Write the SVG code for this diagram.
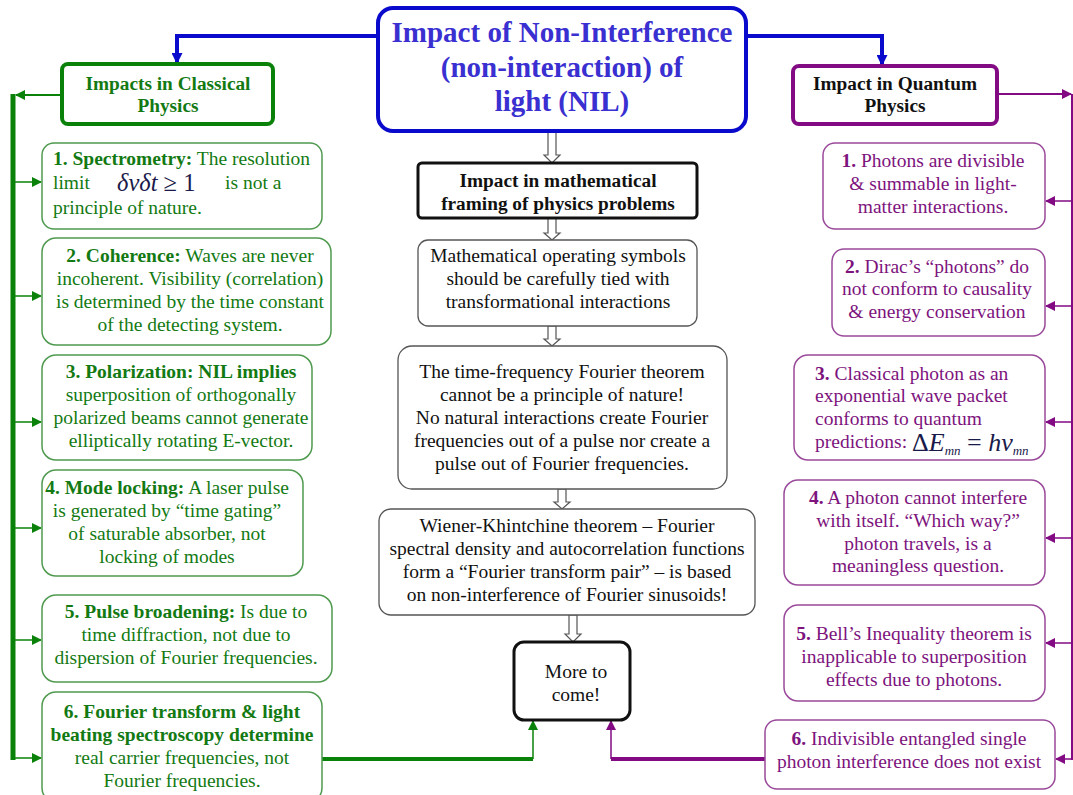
<svg xmlns="http://www.w3.org/2000/svg" width="1073" height="795" viewBox="0 0 1073 795" font-family="'Liberation Serif', 'DejaVu Serif', serif">
<defs>
<style>
text{font-family:"Liberation Serif","DejaVu Serif",serif;font-size:19.5px}
.t{font-size:29px;font-weight:bold;fill:#3a2fd0;text-anchor:middle}
.hb{font-size:19.3px;font-weight:bold;text-anchor:middle}
.g{fill:#137a13}
.p{fill:#7d137d}
.k{fill:#111}
.c{text-anchor:middle}
.b{font-weight:bold}
.gbox{fill:#fff;stroke:#4f9a4f;stroke-width:1.5}
.pbox{fill:#fff;stroke:#9a4a9a;stroke-width:1.5}
.kbox{fill:#fff;stroke:#555;stroke-width:1.3}
.gline{fill:none;stroke:#0a820a}
.pline{fill:none;stroke:#820a82}
.hollow{fill:#fff;stroke:#555;stroke-width:1.2}
.m{font-style:italic;fill:#1a1a4a}
</style>
<marker id="ag" viewBox="0 0 10 10" refX="9" refY="5" markerWidth="10" markerHeight="10" markerUnits="userSpaceOnUse" orient="auto"><path d="M0,0L10,5L0,10z" fill="#0a820a"/></marker>
<marker id="ap" viewBox="0 0 10 10" refX="9" refY="5" markerWidth="10" markerHeight="10" markerUnits="userSpaceOnUse" orient="auto"><path d="M0,0L10,5L0,10z" fill="#820a82"/></marker>
<marker id="ab" viewBox="0 0 10 10" refX="9" refY="5" markerWidth="11" markerHeight="11" markerUnits="userSpaceOnUse" orient="auto"><path d="M0,0L10,5L0,10z" fill="#0a0acc"/></marker>
</defs>

<g id="connectors">
<path d="M378,36H177V63" fill="none" stroke="#0a0acc" stroke-width="4" marker-end="url(#ab)"/>
<path d="M746,36H882V65" fill="none" stroke="#0a0acc" stroke-width="4" marker-end="url(#ab)"/>
<path class="gline" d="M62,95H16" stroke-width="2" marker-end="url(#ag)"/>
<path class="gline" d="M13,94V760" stroke-width="5"/>
<path class="gline" d="M13,182H41" stroke-width="1.5" marker-end="url(#ag)"/>
<path class="gline" d="M13,296H41" stroke-width="1.5" marker-end="url(#ag)"/>
<path class="gline" d="M13,422H41" stroke-width="1.5" marker-end="url(#ag)"/>
<path class="gline" d="M13,528H41" stroke-width="1.5" marker-end="url(#ag)"/>
<path class="gline" d="M13,640H41" stroke-width="1.5" marker-end="url(#ag)"/>
<path class="gline" d="M13,758H41" stroke-width="1.5" marker-end="url(#ag)"/>
<path class="gline" d="M322,759H533" stroke-width="4"/>
<path class="gline" d="M533,759V721" stroke-width="1.5" marker-end="url(#ag)"/>
<path class="pline" d="M997,94H1071" stroke-width="2" marker-end="url(#ap)"/>
<path class="pline" d="M1072,94V760" stroke-width="2"/>
<path class="pline" d="M1072,201H1046" stroke-width="1.5" marker-end="url(#ap)"/>
<path class="pline" d="M1072,306H1046" stroke-width="1.5" marker-end="url(#ap)"/>
<path class="pline" d="M1072,422H1046" stroke-width="1.5" marker-end="url(#ap)"/>
<path class="pline" d="M1072,538H1046" stroke-width="1.5" marker-end="url(#ap)"/>
<path class="pline" d="M1072,643H1046" stroke-width="1.5" marker-end="url(#ap)"/>
<path class="pline" d="M1072,759H1056" stroke-width="1.5" marker-end="url(#ap)"/>
<path class="pline" d="M765,759H611" stroke-width="4"/>
<path class="pline" d="M611,759V721" stroke-width="1.5" marker-end="url(#ap)"/>
<path class="hollow" d="M548,132V155H544L552,163L560,155H556V132z"/>
<path class="hollow" d="M548,218V233H544L552,240L560,233H556V218z"/>
<path class="hollow" d="M548,326V339H544L552,346L560,339H556V326z"/>
<path class="hollow" d="M558,489V502H554L562,509L570,502H566V489z"/>
<path class="hollow" d="M569,615V634H565L573,642L581,634H577V615z"/>
</g>

<g id="title">
<rect x="378" y="8" width="368" height="123" rx="15" fill="#fff" stroke="#0a0acc" stroke-width="4"/>
<text class="t" x="562" y="42">Impact of Non-Interference</text>
<text class="t" x="562" y="77">(non-interaction) of</text>
<text class="t" x="562" y="111">light (NIL)</text>
</g>

<g id="classical">
<rect x="62" y="64" width="211" height="60" rx="6" fill="#fff" stroke="#0a820a" stroke-width="4"/>
<text class="hb g" x="168" y="90">Impacts in Classical</text>
<text class="hb g" x="168" y="112">Physics</text>
</g>

<g id="c1">
<rect class="gbox" x="42" y="143" width="280" height="86" rx="12"/>
<text class="g" x="53" y="165"><tspan class="b">1. Spectrometry:</tspan> The resolution</text>
<text class="g" x="53" y="189">limit</text>
<text class="m" x="117" y="191" style="font-size:24.5px">δνδt <tspan style="font-style:normal">≥ 1</tspan></text>
<text class="g" x="225" y="189">is not a</text>
<text class="g" x="53" y="214">principle of nature.</text>
</g>

<g id="c2">
<rect class="gbox" x="42" y="238" width="289" height="107" rx="14"/>
<text class="g c" x="190" y="262"><tspan class="b">2. Coherence:</tspan> Waves are never</text>
<text class="g c" x="190" y="285">incoherent. Visibility (correlation)</text>
<text class="g c" x="190" y="308">is determined by the time constant</text>
<text class="g c" x="190" y="331">of the detecting system.</text>
</g>

<g id="c3">
<rect class="gbox" x="42" y="355" width="270" height="105" rx="14"/>
<text class="g c" x="181" y="378"><tspan class="b">3. Polarization: NIL implies</tspan></text>
<text class="g c" x="181" y="401">superposition of orthogonally</text>
<text class="g c" x="181" y="424">polarized beams cannot generate</text>
<text class="g c" x="181" y="447">elliptically rotating E-vector.</text>
</g>

<g id="c4">
<rect class="gbox" x="42" y="470" width="261" height="106" rx="14"/>
<text class="g c" x="167" y="494"><tspan class="b">4. Mode locking:</tspan> A laser pulse</text>
<text class="g c" x="167" y="517">is generated by “time gating”</text>
<text class="g c" x="167" y="540">of saturable absorber, not</text>
<text class="g c" x="167" y="563">locking of modes</text>
</g>

<g id="c5">
<rect class="gbox" x="42" y="595" width="290" height="87" rx="14"/>
<text class="g c" x="186" y="618"><tspan class="b">5. Pulse broadening:</tspan> Is due to</text>
<text class="g c" x="186" y="641">time diffraction, not due to</text>
<text class="g c" x="186" y="664">dispersion of  Fourier frequencies.</text>
</g>

<g id="c6">
<rect class="gbox" x="42" y="692" width="280" height="110" rx="14"/>
<text class="g c b" x="182" y="718">6. Fourier transform &amp; light</text>
<text class="g c b" x="182" y="741">beating spectroscopy determine</text>
<text class="g c" x="182" y="764">real carrier frequencies, not</text>
<text class="g c" x="182" y="787">Fourier frequencies.</text>
</g>

<g id="math">
<rect x="418" y="163" width="279" height="55" rx="4" fill="#fff" stroke="#111" stroke-width="3"/>
<text class="hb k" x="558" y="187">Impact in mathematical</text>
<text class="hb k" x="558" y="210">framing of physics problems</text>
</g>

<g id="m1">
<rect class="kbox" x="418" y="240" width="279" height="86" rx="10"/>
<text class="k c" x="558" y="262">Mathematical operating symbols</text>
<text class="k c" x="558" y="285">should be carefully tied with</text>
<text class="k c" x="558" y="308">transformational interactions</text>
</g>

<g id="m2">
<rect class="kbox" x="398" y="346" width="329" height="143" rx="14"/>
<text class="k c" x="562" y="378">The time-frequency Fourier theorem</text>
<text class="k c" x="562" y="401">cannot be a principle of nature!</text>
<text class="k c" x="562" y="424">No natural interactions create Fourier</text>
<text class="k c" x="562" y="447">frequencies out of a pulse nor create a</text>
<text class="k c" x="562" y="470">pulse out of Fourier frequencies.</text>
</g>

<g id="m3">
<rect class="kbox" x="379" y="509" width="376" height="106" rx="12"/>
<text class="k c" x="567" y="532">Wiener-Khintchine theorem – Fourier</text>
<text class="k c" x="567" y="555">spectral density and autocorrelation functions</text>
<text class="k c" x="567" y="578">form a “Fourier transform pair” –  is based</text>
<text class="k c" x="567" y="601">on non-interference of Fourier sinusoids!</text>
</g>

<g id="more">
<rect x="514" y="642" width="116" height="78" rx="10" fill="#fff" stroke="#111" stroke-width="3"/>
<text class="k c" x="576" y="678">More to</text>
<text class="k c" x="576" y="701">come!</text>
</g>

<g id="quantum">
<rect x="793" y="66" width="204" height="58" rx="6" fill="#fff" stroke="#820a82" stroke-width="4"/>
<text class="hb k" x="895" y="90">Impact in Quantum</text>
<text class="hb k" x="895" y="112">Physics</text>
</g>

<g id="q1">
<rect class="pbox" x="823" y="143" width="222" height="86" rx="12"/>
<text class="p c" x="933" y="167"><tspan class="b">1.</tspan> Photons are divisible</text>
<text class="p c" x="933" y="190">&amp; summable in light-</text>
<text class="p c" x="933" y="213">matter interactions.</text>
</g>

<g id="q2">
<rect class="pbox" x="832" y="249" width="213" height="87" rx="12"/>
<text class="p c" x="937" y="273"><tspan class="b">2.</tspan> Dirac’s “photons” do</text>
<text class="p c" x="937" y="295">not conform to causality</text>
<text class="p c" x="937" y="318">&amp; energy conservation</text>
</g>

<g id="q3">
<rect class="pbox" x="794" y="355" width="251" height="105" rx="14"/>
<text class="p" x="815" y="380"><tspan class="b">3.</tspan> Classical photon as an</text>
<text class="p" x="815" y="402">exponential wave packet</text>
<text class="p" x="815" y="425">conforms to quantum</text>
<text class="p" x="815" y="448">predictions:</text>
<text class="m" x="912" y="451" style="font-size:26px"><tspan style="font-style:normal">Δ</tspan>E<tspan dy="4" style="font-size:13px">mn</tspan><tspan dy="-4" style="font-style:normal"> = </tspan>hν<tspan dy="4" style="font-size:13px">mn</tspan></text>
</g>

<g id="q4">
<rect class="pbox" x="784" y="480" width="261" height="105" rx="14"/>
<text class="p c" x="918" y="504"><tspan class="b">4.</tspan> A photon cannot interfere</text>
<text class="p c" x="918" y="527">with itself. “Which way?”</text>
<text class="p c" x="918" y="550">photon travels, is a</text>
<text class="p c" x="918" y="572">meaningless question.</text>
</g>

<g id="q5">
<rect class="pbox" x="784" y="605" width="261" height="96" rx="14"/>
<text class="p c" x="914" y="640"><tspan class="b">5.</tspan> Bell’s Inequality theorem is</text>
<text class="p c" x="914" y="663">inapplicable to superposition</text>
<text class="p c" x="914" y="686">effects due to photons.</text>
</g>

<g id="q6">
<rect class="pbox" x="765" y="720" width="290" height="69" rx="12"/>
<text class="p c" x="909" y="745"><tspan class="b">6.</tspan> Indivisible entangled single</text>
<text class="p c" x="909" y="768">photon interference does not exist</text>
</g>
</svg>
